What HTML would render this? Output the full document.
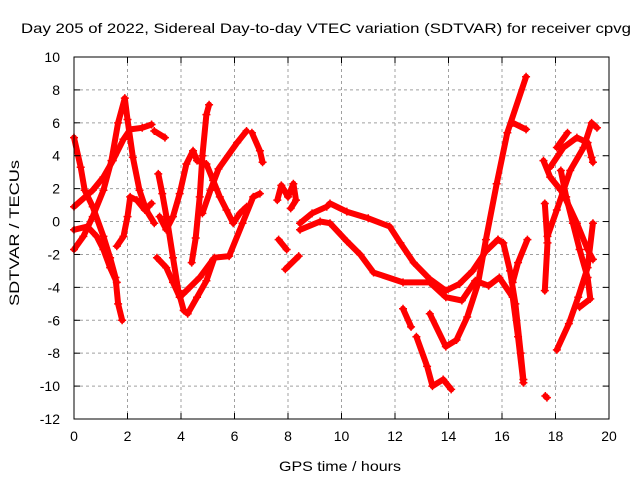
<!DOCTYPE html>
<html><head><meta charset="utf-8"><style>
html,body{margin:0;padding:0;background:#fff;}
svg{display:block;font-family:"Liberation Sans",sans-serif;}
</style></head><body>
<svg id="chart" width="640" height="480" viewBox="0 0 640 480">
<text x="326" y="33" font-size="14" text-anchor="middle" textLength="610" lengthAdjust="spacingAndGlyphs" fill="#000">Day 205 of 2022, Sidereal Day-to-day VTEC variation (SDTVAR) for receiver cpvg</text>
<text x="340" y="471" font-size="14" text-anchor="middle" textLength="122" lengthAdjust="spacingAndGlyphs" fill="#000">GPS time / hours</text>
<text transform="translate(19,233) rotate(-90)" font-size="14" text-anchor="middle" textLength="146" lengthAdjust="spacingAndGlyphs" fill="#000">SDTVAR / TECUs</text>
<g id="grid"></g>
<g id="series"></g>
<g id="axes"></g>
</svg>
<script>
const xTicks = [0,2,4,6,8,10,12,14,16,18,20];
const yTicks = [10,8,6,4,2,0,-2,-4,-6,-8,-10,-12];
const tracks = [
 [[0,5.1],[0.25,3.3],[0.4,1.9],[0.7,0.9],[1.1,-0.9],[1.35,-2.2],[1.55,-3.4],[1.65,-5],[1.8,-6]],
 [[0,-1.7],[0.35,-0.9],[0.7,0.3],[1.1,1.9],[1.4,3.7],[1.65,6],[1.9,7.5],[2.0,6.2],[2.2,3.9],[2.45,1.9],[2.7,0.7],[3.0,-0.1]],
 [[0,0.9],[0.7,1.9],[1.1,2.7],[1.45,3.7],[1.85,5],[2.1,5.6],[2.55,5.7],[2.9,5.9]],
 [[1.6,-1.5],[1.85,-0.9],[2.0,0.3],[2.1,1.5],[2.35,1.3],[2.65,0.7],[2.9,1.1]],
 [[0,-0.5],[0.5,-0.3],[0.85,-0.9],[1.1,-1.7],[1.35,-2.8],[1.6,-3.7]],
 [[3.0,5.5],[3.4,5.1]],
 [[3.15,2.9],[3.3,1.7],[3.5,-0.1],[3.7,-2.2],[3.9,-4.2],[4.1,-5.4],[4.25,-5.6],[4.6,-4.6],[4.95,-3.6],[5.25,-2.2],[5.8,-2.1],[6.3,-0.1],[6.7,1.5],[6.95,1.7]],
 [[3.1,-2.2],[3.45,-2.8],[3.7,-3.7],[3.95,-4.6],[4.2,-4.2],[4.7,-3.4],[5.2,-2.3]],
 [[3.2,0.3],[3.45,-0.5],[3.7,0.3],[3.95,1.7],[4.2,3.5],[4.45,4.3],[4.6,3.7],[4.95,3.5],[5.2,2.5],[5.45,1.5],[5.7,0.7],[5.95,-0.1],[6.2,0.5],[6.45,0.9]],
 [[4.4,-2.5],[4.55,-1],[4.7,1.5],[4.8,4],[4.95,6.5],[5.05,7.1]],
 [[4.8,0.5],[5.1,1.9],[5.4,3.2],[6.1,4.8],[6.45,5.5]],
 [[6.65,5.4],[6.95,4.3],[7.05,3.6]],
 [[7.6,1.3],[7.75,2.2],[8.0,1.5],[8.2,2.3],[8.3,1.3],[8.1,0.8]],
 [[7.65,-1.1],[7.95,-1.7]],
 [[7.9,-2.9],[8.4,-2.1]],
 [[8.45,-0.1],[8.9,0.5],[9.45,0.9],[9.57,1.1],[10.2,0.6],[11.0,0.2],[11.8,-0.3],[12.2,-1.3],[12.7,-2.5],[13.3,-3.5],[13.9,-4.2],[14.4,-3.8],[14.9,-3],[15.4,-1.8],[15.85,-1.1]],
 [[8.45,-0.5],[9.2,0],[9.57,-0.1],[10.2,-1.2],[10.7,-2],[11.2,-3.1],[12.3,-3.7],[13.3,-3.7],[13.9,-4.6],[14.5,-4.8],[15,-3.6],[15.5,-3.9],[15.9,-3.4],[16.4,-4.6],[16.6,-7],[16.8,-9.8]],
 [[15.85,-1.1],[16.05,-1.3],[16.3,-3],[16.5,-5],[16.7,-8],[16.8,-9.6]],
 [[16.4,-3.7],[16.6,-2.5],[16.95,-1.1]],
 [[13.3,-5.6],[13.9,-7.6],[14.3,-7.2],[14.7,-5.8],[15.1,-3.8],[15.4,-1.1],[15.8,2.3],[16.2,5.4],[16.9,8.8]],
 [[16.4,6],[16.9,5.6]],
 [[12.3,-5.3],[12.6,-6.4]],
 [[12.8,-7],[13.2,-8.8],[13.4,-10],[13.8,-9.6],[14.1,-10.2]],
 [[17.6,1.1],[17.7,-1.3],[17.6,-4.2]],
 [[17.62,-10.6],[17.68,-10.7]],
 [[18.05,-7.8],[18.5,-6.2],[18.85,-4.6],[19.2,-2.8],[19.4,-0.1]],
 [[17.55,3.7],[17.8,2.7],[18.2,1.9],[18.4,1.3],[18.8,-0.1],[19.2,-1.7],[19.4,-2.3]],
 [[17.7,-0.9],[18.05,0.7],[18.3,1.9],[18.55,3.1],[19.05,4.5],[19.35,6],[19.55,5.7]],
 [[17.8,3.3],[18.3,4.5],[18.8,5.1],[19.2,4.8],[19.35,3.9],[19.4,3.6]],
 [[18.2,3.1],[18.4,1.5],[18.65,-0.1],[18.9,-1.7],[19.2,-3.4],[19.3,-4.7],[18.9,-5.2]],
 [[18.05,4.5],[18.45,5.4]]
];
const NS = "http://www.w3.org/2000/svg";
const L=74,R=609,T=57,B=419,xMin=0,xMax=20,yMin=-12,yMax=10;
const xs = v => L + (v-xMin)/(xMax-xMin)*(R-L);
const ys = v => B - (v-yMin)/(yMax-yMin)*(B-T);
const grid = document.getElementById('grid');
const axes = document.getElementById('axes');
const series = document.getElementById('series');
function mk(tag, attrs, parent){const e=document.createElementNS(NS,tag);for(const k in attrs)e.setAttribute(k,attrs[k]);parent.appendChild(e);return e;}
xTicks.forEach(t=>{
  const x=xs(t);
  if(t>xMin&&t<xMax){const g=mk('line',{x1:x,x2:x,y1:T,y2:B,stroke:'#a0a0a0','stroke-dasharray':'3,3','stroke-width':1},grid);
  
  }
  mk('line',{x1:x,x2:x,y1:B,y2:B-6,stroke:'#000'},axes);
  mk('line',{x1:x,x2:x,y1:T,y2:T+6,stroke:'#000'},axes);
  const tx=mk('text',{x:x,y:B+22,'font-size':14,'text-anchor':'middle'},axes);
  tx.textContent=t;
  
  
});
yTicks.forEach(t=>{
  const y=ys(t);
  if(t>yMin&&t<yMax){const g=mk('line',{x1:L,x2:R,y1:y,y2:y,stroke:'#a0a0a0','stroke-dasharray':'3,3','stroke-width':1},grid);
  
  }
  mk('line',{x1:L,x2:L+6,y1:y,y2:y,stroke:'#000'},axes);
  mk('line',{x1:R,x2:R-6,y1:y,y2:y,stroke:'#000'},axes);
  const tx=mk('text',{x:L-14,y:y+5,'font-size':14,'text-anchor':'end'},axes);
  tx.textContent=t;
  
  
});
const frame=mk('rect',{x:L,y:T,width:R-L,height:B-T,fill:'none',stroke:'#000','stroke-width':1},axes);


tracks.forEach((tr,i)=>{
  const pts=tr.map(p=>xs(p[0]).toFixed(1)+','+ys(p[1]).toFixed(1)).join(' ');
  const pl=mk('polyline',{points:pts,fill:'none',stroke:'#ff0000','stroke-width':6,'stroke-linejoin':'round','stroke-linecap':'round'},series);
  
  
  tr.forEach(p=>{
    const x=xs(p[0]),y=ys(p[1]);
    const m=mk('path',{d:`M${x-4},${y}H${x+4}M${x},${y-4}V${y+4}`,stroke:'#ff0000','stroke-width':1.5},series);
    
    
  });
});
</script>
</body></html>
